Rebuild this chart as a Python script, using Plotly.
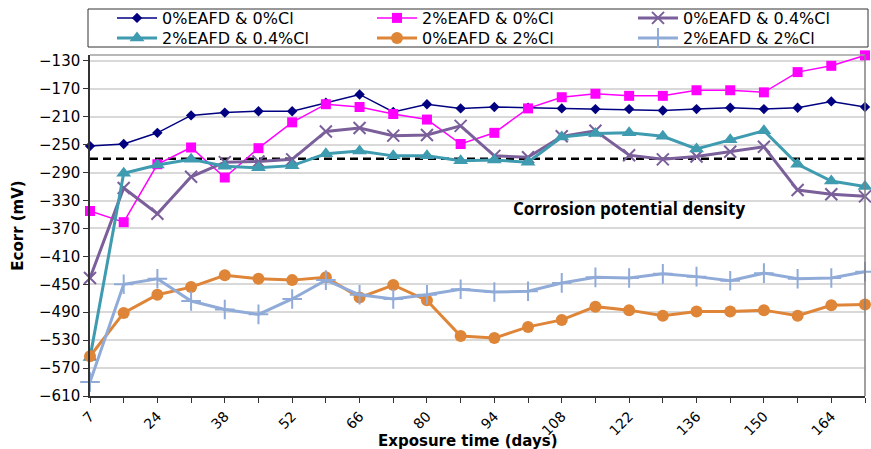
import plotly.graph_objects as go

days = [7, 14, 24, 31, 38, 45, 52, 59, 66, 73, 80, 87, 94, 101, 108, 115, 122, 129, 136, 143, 150, 157, 164, 171]
tick_labels = ["7", "", "24", "", "38", "", "52", "", "66", "", "80", "", "94", "", "108", "", "122", "", "136", "", "150", "", "164", ""]

s_0eafd_0cl = [-252, -249, -233, -208, -204, -202, -202, -190, -178, -203, -192, -198, -196, -197, -198, -199, -199, -201, -199, -197, -199, -197, -188, -196]
s_2eafd_0cl = [-345, -361, -278, -254, -297, -255, -218, -192, -196, -206, -214, -249, -233, -198, -182, -177, -180, -180, -172, -172, -175, -146, -137, -122]
s_0eafd_04cl = [-441, -312, -349, -296, -275, -274, -271, -231, -226, -237, -236, -223, -266, -268, -238, -230, -265, -271, -267, -260, -253, -315, -321, -324]
s_2eafd_04cl = [-555, -291, -279, -271, -281, -283, -280, -263, -259, -266, -266, -273, -272, -275, -239, -234, -233, -238, -256, -243, -230, -278, -302, -310]
s_0eafd_2cl = [-553, -491, -465, -454, -437, -442, -444, -440, -469, -451, -473, -524, -527, -511, -501, -482, -487, -495, -489, -489, -487, -495, -480, -479]
s_2eafd_2cl = [-590, -450, -442, -474, -486, -493, -471, -444, -465, -471, -465, -457, -461, -460, -448, -440, -441, -435, -439, -445, -434, -442, -441, -432]

threshold = -270
threshold_label = "Corrosion potential density"
y_ticks = list(range(-610, -129, 40))

names = ["0%EAFD & 0%Cl", "2%EAFD & 0%Cl", "0%EAFD & 0.4%Cl",
         "2%EAFD & 0.4%Cl", "0%EAFD & 2%Cl", "2%EAFD & 2%Cl"]
series = [s_0eafd_0cl, s_2eafd_0cl, s_0eafd_04cl, s_2eafd_04cl, s_0eafd_2cl, s_2eafd_2cl]
colors = ["#000080", "#FF00FF", "#7A5F9A", "#3E9BB0", "#DE8538", "#90ABD8"]
symbols = ["diamond", "square", "x-thin-open", "triangle-up", "circle", "cross-thin-open"]
msizes = [8, 10, 12, 13, 12, 14]
lwidths = [1.5, 1.5, 3, 3, 3, 3]

idx = list(range(len(days)))

W, H = 871, 449
ML, MR, MT, MB = 90, 6, 55, 53
PW, PH = W - ML - MR, H - MT - MB


def px_x(p):
    return (p - ML) / PW


def px_y(p):
    return 1 + (MT - p) / PH


leg_names = ["legend", "legend2", "legend3", "legend4", "legend5", "legend6"]
leg_cols = [112, 372, 633]
leg_rows = [18, 38]

fig = go.Figure()
fig.add_trace(go.Scatter(
    x=[idx[0], idx[-1]], y=[threshold, threshold], mode="lines",
    line=dict(color="black", width=2.5, dash="8px,5px"),
    showlegend=False, hoverinfo="skip"))

for k in range(6):
    mline = dict(width=2, color=colors[k]) if "thin" in symbols[k] else dict(width=0)
    fig.add_trace(go.Scatter(
        x=idx, y=series[k], name=names[k], mode="lines+markers",
        line=dict(color=colors[k], width=lwidths[k]),
        marker=dict(symbol=symbols[k], size=msizes[k], color=colors[k], line=mline),
        cliponaxis=False, legend=leg_names[k]))

fig.add_annotation(x=16, y=-342, text="<b>" + threshold_label + "</b>", showarrow=False,
                   font=dict(family="Open Sans", size=17, color="black"))

fig.add_annotation(xref="paper", yref="paper", x=px_x(468), y=px_y(441), yanchor="middle",
                   text="<b>Exposure time (days)</b>", showarrow=False,
                   font=dict(family="DejaVu Sans", size=15, color="black"))

# legend box
fig.add_shape(type="rect", xref="paper", yref="paper", x0=px_x(88), x1=px_x(868),
              y0=px_y(47), y1=px_y(9), line=dict(color="#333", width=1), fillcolor="white")

# plot frame (top and right)
fig.add_shape(type="line", xref="paper", yref="paper", x0=0, x1=1, y0=1, y1=1,
              line=dict(color="#A0A0A0", width=1.5))
fig.add_shape(type="line", xref="paper", yref="paper", x0=1, x1=1, y0=0, y1=1,
              line=dict(color="#808080", width=1.5))

legends = {}
for k, ln in enumerate(leg_names):
    legends[ln] = dict(orientation="h", xanchor="left", yanchor="middle",
                       x=px_x(leg_cols[k % 3]), y=px_y(leg_rows[k // 3]),
                       bgcolor="rgba(0,0,0,0)", borderwidth=0,
                       font=dict(family="DejaVu Sans", size=16), itemwidth=40)

fig.update_layout(
    width=W, height=H,
    margin=dict(l=ML, r=MR, t=MT, b=MB, autoexpand=False),
    paper_bgcolor="white", plot_bgcolor="white",
    font=dict(family="DejaVu Sans", size=14, color="black"),
    xaxis=dict(range=[0, 23], tickvals=idx, ticktext=tick_labels, tickangle=-45,
               ticks="outside", ticklen=5, tickcolor="#333", showline=True, linecolor="#333",
               linewidth=1.5, showgrid=False, zeroline=False,
               tickfont=dict(family="DejaVu Sans", size=14)),
    yaxis=dict(range=[-610, -121.5], tickvals=y_ticks, ticks="outside", ticklen=5,
               tickcolor="#333", showline=True, linecolor="#333", linewidth=1.5,
               gridcolor="#D9D9D9", gridwidth=1.5, zeroline=False,
               tickfont=dict(family="DejaVu Sans", size=15),
               title=dict(text="<b>Ecorr (mV)</b>", standoff=12,
                          font=dict(family="DejaVu Sans", size=15))),
    **legends,
)

fig.write_html("out.html")
